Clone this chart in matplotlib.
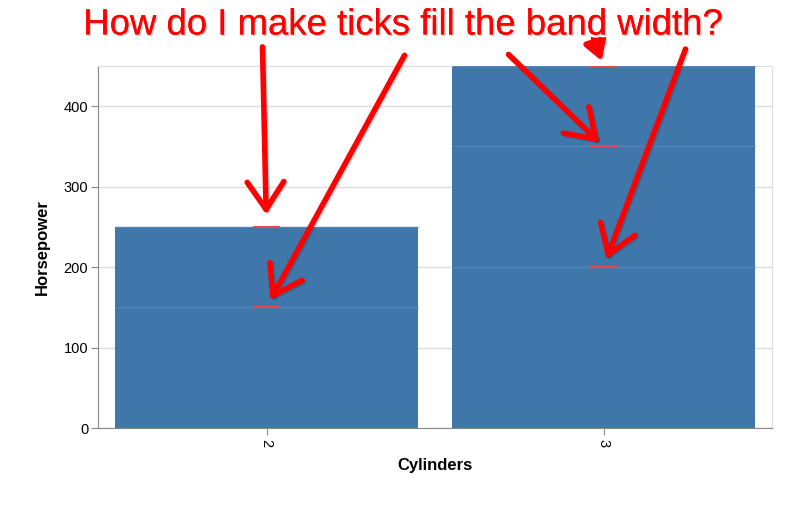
import matplotlib
matplotlib.use('Agg')
import matplotlib.pyplot as plt
import matplotlib.patheffects as pe

cylinders = ['2', '3']
bar_hp = [250, 450]
tick_cyl = [0, 0, 1, 1, 1]
tick_hp = [250, 150, 450, 350, 200]
y_ticks = [0, 100, 200, 300, 400]

# arrows: (target index into ticks, start offset in pixels from target)
arrow_targets = [0, 1, 2, 3, 4]
arrow_offsets = [(-4, 180), (138, 252), (-10, 28), (-95, 92), (82, 218)]
arrow_gaps = [9, 6, 4, 4, 6]

plt.rcParams['font.family'] = ['Liberation Sans', 'DejaVu Sans']

fig = plt.figure(figsize=(7.99, 5.08), dpi=100)
ax = fig.add_axes([98 / 799, 1 - 428 / 508, 674 / 799, 362 / 508])

bar_color = '#3f77ab'
x = list(range(len(cylinders)))
ax.bar(x, bar_hp, width=0.9, color=bar_color, zorder=2)

# faint lines inside the bars at tick values, then the short red ticks
for c, v in zip(tick_cyl, tick_hp):
    ax.hlines(v, c - 0.45, c + 0.45, color='#5284b6', lw=1, zorder=3)
    ax.hlines(v, c - 0.04, c + 0.04, color='#e8474a', lw=1.5, zorder=4)

ax.set_xlim(-0.5, 1.5)
ax.set_ylim(0, 450)
ax.set_xticks(x)
ax.set_xticklabels(cylinders, rotation=-90, fontsize=10.5)
ax.set_yticks(y_ticks)
ax.tick_params(axis='y', labelsize=10.5, length=5, color='#888888', pad=2)
ax.tick_params(axis='x', length=5, color='#888888', pad=3)
ax.yaxis.grid(True, color='#dddddd', lw=1, zorder=0)
ax.set_axisbelow(True)
for s in ['top', 'right']:
    ax.spines[s].set_color('#dddddd')
for s in ['left', 'bottom']:
    ax.spines[s].set_color('#888888')
ax.set_xlabel('Cylinders', fontsize=12, fontweight='bold', labelpad=8)
ax.set_ylabel('Horsepower', fontsize=12, fontweight='bold', labelpad=10)

for t, (dx, dy), g in zip(arrow_targets, arrow_offsets, arrow_gaps):
    head = '->,head_length=0.9,head_width=0.6' if t != 2 else '-|>,head_length=0.5,head_width=0.3'
    ax.annotate('', xy=(tick_cyl[t], tick_hp[t]), xycoords='data',
                xytext=(dx, dy), textcoords='offset pixels',
                arrowprops=dict(arrowstyle=head, mutation_scale=22,
                                color='#ff0000', lw=4, shrinkA=0, shrinkB=g,
                                path_effects=[pe.SimpleLineShadow(offset=(1, -1), alpha=0.15),
                                              pe.Normal()]),
                annotation_clip=False, zorder=6)

fig.text(403 / 799, 1 - 25 / 508, 'How do I make ticks fill the band width?',
         color='#ff0000', fontsize=26.3, ha='center', va='center',
         path_effects=[pe.withStroke(linewidth=4, foreground='white'),
                       pe.SimplePatchShadow(offset=(1, -1), alpha=0.2), pe.Normal()])

fig.savefig('out.png', dpi=100)
